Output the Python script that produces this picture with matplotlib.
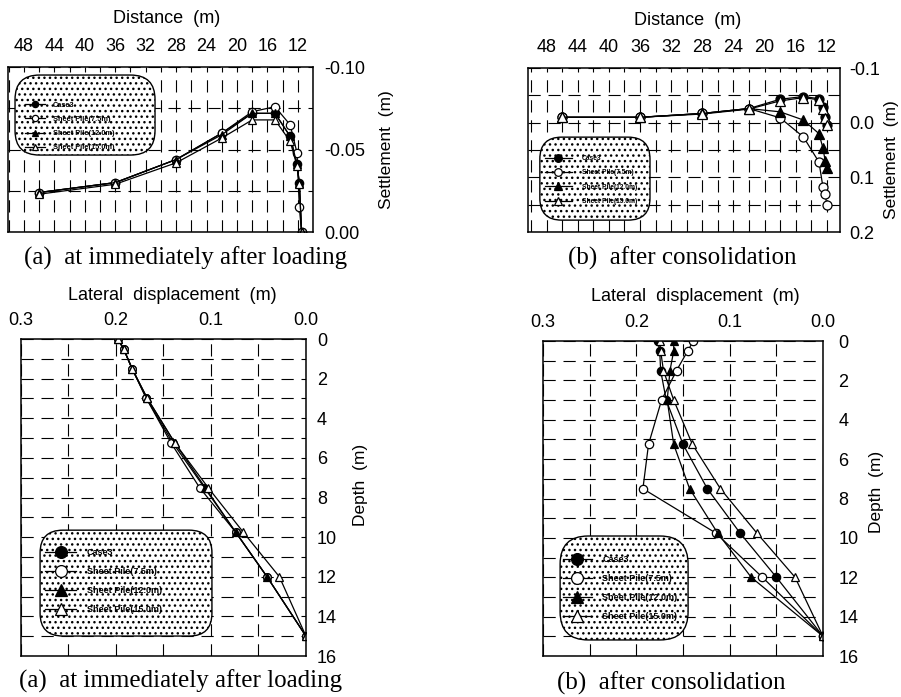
import numpy as np
import matplotlib
matplotlib.use("Agg")
import matplotlib.pyplot as plt
from matplotlib.patches import FancyBboxPatch
from matplotlib.ticker import MultipleLocator, FormatStrFormatter

plt.rcParams['font.family'] = ['Liberation Sans', 'DejaVu Sans']
plt.rcParams['hatch.linewidth'] = 1.0

labels = ["Case3", "Sheet Pile(7.5m)", "Sheet Pile(12.0m)", "Sheet Pile(15.0m)"]

# settlement, distance from the wall (m)
dist_a = [46, 36, 28, 22, 18, 15, 13, 12.1, 11.8, 11.5]
case3_a = [-0.024, -0.030, -0.044, -0.060, -0.072, -0.072, -0.058, -0.041, -0.030, 0.0]
pile75_a = [-0.024, -0.030, -0.044, -0.060, -0.073, -0.076, -0.065, -0.048, -0.015, 0.0]
pile12_a = [-0.024, -0.030, -0.044, -0.059, -0.072, -0.072, -0.058, -0.041, -0.030, 0.0]
pile15_a = [-0.023, -0.029, -0.042, -0.057, -0.068, -0.068, -0.055, -0.040, -0.029, 0.0]

dist_b = [46, 36, 28, 22, 18, 15, 13, 12.5, 12.2, 12.0]
case3_b = [-0.010, -0.010, -0.017, -0.026, -0.043, -0.048, -0.044, -0.028, -0.010, 0.004]
pile75_b = [-0.010, -0.010, -0.017, -0.026, -0.009, 0.026, 0.072, 0.117, 0.131, 0.150]
pile12_b = [-0.010, -0.010, -0.017, -0.026, -0.020, -0.005, 0.020, 0.046, 0.070, 0.083]
pile15_b = [-0.010, -0.010, -0.016, -0.025, -0.040, -0.046, -0.042, -0.025, -0.008, 0.004]

# lateral displacement vs depth
depth = [0, 0.5, 1.5, 3, 5.25, 7.5, 9.75, 12, 15]
case3_la = [0.198, 0.192, 0.183, 0.168, 0.140, 0.107, 0.074, 0.041, 0.0]
pile75_la = [0.198, 0.192, 0.183, 0.168, 0.142, 0.112, 0.074, 0.041, 0.0]
pile12_la = [0.198, 0.192, 0.183, 0.167, 0.138, 0.106, 0.074, 0.041, 0.0]
pile15_la = [0.198, 0.192, 0.183, 0.167, 0.138, 0.103, 0.066, 0.028, 0.0]

case3_lb = [0.177, 0.175, 0.174, 0.168, 0.150, 0.124, 0.089, 0.050, 0.0]
pile75_lb = [0.139, 0.145, 0.157, 0.173, 0.187, 0.193, 0.115, 0.065, 0.0]
pile12_lb = [0.160, 0.160, 0.164, 0.167, 0.160, 0.143, 0.113, 0.077, 0.0]
pile15_lb = [0.175, 0.174, 0.171, 0.160, 0.140, 0.110, 0.071, 0.030, 0.0]

styles = [dict(marker='o', mfc='k'), dict(marker='o', mfc='white'),
          dict(marker='^', mfc='k'), dict(marker='^', mfc='white')]

fig = plt.figure(figsize=(9.01, 6.97), dpi=100)


def frame(ax, xpad, ypad):
    ax.xaxis.tick_top()
    ax.xaxis.set_label_position('top')
    ax.yaxis.tick_right()
    ax.yaxis.set_label_position('right')
    ax.tick_params(which='both', length=0, labelsize=13)
    ax.tick_params(axis='x', pad=xpad)
    ax.tick_params(axis='y', pad=ypad)
    ax.grid(True, which='both', color='k', linestyle=(0, (11, 7)), linewidth=0.8)
    for s in ax.spines.values():
        s.set_linewidth(1.1)


def labels_at(ax, xl, yl, xpos, ypos):
    ax.set_xlabel(xl, fontsize=13)
    ax.set_ylabel(yl, fontsize=12.5)
    ax.xaxis.set_label_coords(*xpos)
    ax.yaxis.set_label_coords(*ypos)


def draw(ax, xs, ys_list, ms, swap=False):
    for ys, st in zip(ys_list, styles):
        if swap:
            ax.plot(ys, xs, color='k', lw=0.9, ms=ms, mec='k', mew=0.9, **st)
        else:
            ax.plot(xs, ys, color='k', lw=0.9, ms=ms, mec='k', mew=0.9, **st)


def legend(ax, box, anchor, fs, ms, hl, htp, ls, rad=0.07):
    x0, y0, x1, y1 = box
    bb = ax.get_window_extent()
    patch = FancyBboxPatch((x0, y0), x1 - x0, y1 - y0, transform=ax.transAxes,
                           boxstyle='round,pad=0,rounding_size=%g' % rad,
                           mutation_aspect=bb.width / bb.height,
                           facecolor='white', edgecolor='k', linewidth=1.0,
                           hatch='...', zorder=5)
    ax.add_patch(patch)
    leg = ax.legend(labels, loc='upper left', bbox_to_anchor=anchor, frameon=False,
                    borderpad=0, borderaxespad=0, handlelength=hl, handletextpad=htp,
                    labelspacing=ls, prop=dict(size=fs, weight='bold'))
    leg.set_zorder(6)
    for h in leg.legend_handles:
        h.set_markersize(ms)
    return leg


# (a) settlement
ax1 = fig.add_axes([0.0089, 0.667, 0.3385, 0.2367])
draw(ax1, dist_a, [case3_a, pile75_a, pile12_a, pile15_a], 6)
ax1.set_xlim(50.1, 10.0)
ax1.set_ylim(0.0, -0.10)
ax1.xaxis.set_major_locator(MultipleLocator(4))
ax1.xaxis.set_minor_locator(MultipleLocator(2))
ax1.yaxis.set_major_locator(MultipleLocator(0.05))
ax1.yaxis.set_minor_locator(MultipleLocator(0.025))
ax1.yaxis.set_major_formatter(FormatStrFormatter('%.2f'))
frame(ax1, 9, 8)
labels_at(ax1, 'Distance  (m)', 'Settlement  (m)', (0.52, 1.27), (1.217, 0.5))
legend(ax1, (0.023, 0.467, 0.482, 0.952), (0.055, 0.79), 5.3, 4.5, 2.8, 1.0, 0.95, rad=0.08)

# (b) settlement
ax2 = fig.add_axes([0.586, 0.667, 0.3463, 0.2353])
draw(ax2, dist_b, [case3_b, pile75_b, pile12_b, pile15_b], 6.5)
ax2.set_xlim(50.4, 10.3)
ax2.set_ylim(0.2, -0.1)
ax2.xaxis.set_major_locator(MultipleLocator(4))
ax2.xaxis.set_minor_locator(MultipleLocator(2))
ax2.yaxis.set_major_locator(MultipleLocator(0.1))
ax2.yaxis.set_minor_locator(MultipleLocator(0.05))
ax2.yaxis.set_major_formatter(FormatStrFormatter('%.1f'))
frame(ax2, 9, 7)
labels_at(ax2, 'Distance  (m)', 'Settlement  (m)', (0.513, 1.26), (1.142, 0.44))
legend(ax2, (0.038, 0.073, 0.391, 0.579), (0.055, 0.47), 4.8, 5.5, 4.0, 1.5, 1.1, rad=0.07)

# (a) lateral displacement
ax3 = fig.add_axes([0.0233, 0.0588, 0.3163, 0.4548])
draw(ax3, depth, [case3_la, pile75_la, pile12_la, pile15_la], 5.5, swap=True)
ax3.set_xlim(0.3, 0.0)
ax3.set_ylim(16, 0)
ax3.xaxis.set_major_locator(MultipleLocator(0.1))
ax3.xaxis.set_minor_locator(MultipleLocator(0.05))
ax3.xaxis.set_major_formatter(FormatStrFormatter('%.1f'))
ax3.yaxis.set_major_locator(MultipleLocator(2))
ax3.yaxis.set_minor_locator(MultipleLocator(1))
frame(ax3, 7, 8)
labels_at(ax3, 'Lateral  displacement  (m)', 'Depth  (m)', (0.53, 1.123), (1.165, 0.54))
legend(ax3, (0.067, 0.063, 0.670, 0.397), (0.085, 0.34), 6.5, 8.5, 3.4, 1.2, 1.1, rad=0.08)

# (b) lateral displacement
ax4 = fig.add_axes([0.6027, 0.0588, 0.3108, 0.4519])
draw(ax4, depth, [case3_lb, pile75_lb, pile12_lb, pile15_lb], 6, swap=True)
ax4.set_xlim(0.3, 0.0)
ax4.set_ylim(16, 0)
ax4.xaxis.set_major_locator(MultipleLocator(0.1))
ax4.xaxis.set_minor_locator(MultipleLocator(0.05))
ax4.xaxis.set_major_formatter(FormatStrFormatter('%.1f'))
ax4.yaxis.set_major_locator(MultipleLocator(2))
ax4.yaxis.set_minor_locator(MultipleLocator(1))
frame(ax4, 7, 11)
labels_at(ax4, 'Lateral  displacement  (m)', 'Depth  (m)', (0.543, 1.127), (1.165, 0.52))
legend(ax4, (0.061, 0.051, 0.518, 0.381), (0.07, 0.32), 6.5, 8.5, 3.2, 1.2, 1.1, rad=0.1)

cap = dict(fontsize=18, family='Liberation Serif', ha='center', va='center')
fig.text(186 / 901, 1 - 258 / 697, '(a)  at immediately after loading', **cap)
fig.text(682 / 901, 1 - 258 / 697, '(b)  after consolidation', **cap)
fig.text(181 / 901, 1 - 681 / 697, '(a)  at immediately after loading', **cap)
fig.text(671 / 901, 1 - 683 / 697, '(b)  after consolidation', **cap)

fig.savefig('out.png', dpi=100)
